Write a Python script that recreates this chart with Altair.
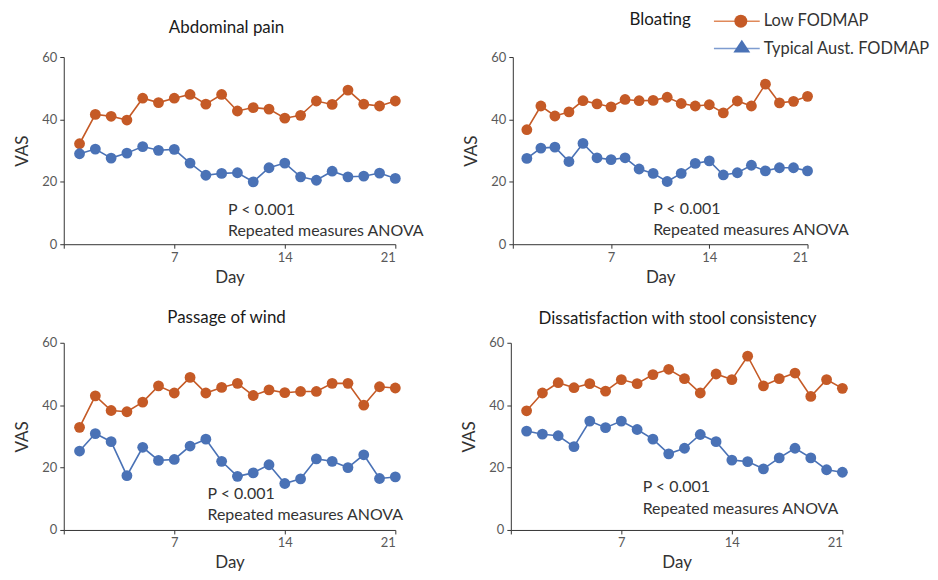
import altair as alt
import pandas as pd

# ---------------- data ----------------
days = list(range(1, 22))
series_names = ["Low FODMAP", "Typical Aust. FODMAP"]
panel_titles = ["Abdominal pain", "Bloating", "Passage of wind",
                "Dissatisfaction with stool consistency"]

abdominal_low = [32.2, 41.6, 41.0, 39.8, 46.8, 45.4, 46.8, 48.0, 44.9, 48.0, 42.7,
                 43.8, 43.3, 40.4, 41.3, 45.9, 44.8, 49.4, 44.9, 44.3, 45.9]
abdominal_typ = [29.0, 30.5, 27.6, 29.2, 31.3, 30.1, 30.4, 26.0, 22.1, 22.7, 22.9,
                 20.0, 24.5, 26.0, 21.6, 20.5, 23.4, 21.6, 21.8, 22.8, 21.1]
bloating_low = [36.7, 44.3, 41.1, 42.4, 46.0, 45.0, 44.0, 46.4, 46.0, 46.1, 47.1,
                45.1, 44.3, 44.7, 42.1, 45.9, 44.3, 51.3, 45.3, 45.8, 47.4]
bloating_typ = [27.5, 30.8, 31.1, 26.5, 32.3, 27.7, 27.1, 27.7, 24.1, 22.7, 20.1,
                22.7, 25.9, 26.7, 22.2, 22.9, 25.3, 23.5, 24.5, 24.5, 23.5]
wind_low = [32.9, 43.0, 38.3, 37.9, 41.0, 46.2, 43.9, 48.9, 43.9, 45.7, 47.0,
            43.1, 44.9, 44.0, 44.4, 44.4, 47.0, 47.0, 40.0, 45.9, 45.5]
wind_typ = [25.3, 30.9, 28.3, 17.4, 26.5, 22.3, 22.6, 26.9, 29.1, 22.0, 17.2,
            18.3, 20.9, 14.9, 16.4, 22.8, 22.0, 20.0, 24.1, 16.5, 17.0]
stool_low = [38.2, 43.9, 47.2, 45.6, 46.9, 44.5, 48.2, 46.9, 49.8, 51.5, 48.5,
             43.9, 50.0, 48.2, 55.7, 46.2, 48.5, 50.3, 42.8, 48.2, 45.4]
stool_typ = [31.7, 30.7, 30.2, 26.7, 34.9, 32.8, 34.9, 32.2, 29.1, 24.4, 26.2,
             30.6, 28.3, 22.4, 21.9, 19.6, 23.1, 26.2, 23.1, 19.3, 18.5]

x_ticks = [0, 7, 14, 21]
y_ticks = [0, 20, 40, 60]
annotation_lines = ["P < 0.001", "Repeated measures ANOVA"]

# ---------------- styles ----------------
FONT = "Lato"
ORANGE = "#C55A26"
BLUE = "#4A72B6"
ORANGE_LINE = "#E0895A"
BLUE_LINE = "#7E9CD0"

TRIANGLE = "M0,-0.75L1,0.75L-1,0.75Z"
legend_marker_colors = [ORANGE, BLUE]
legend_line_colors = [ORANGE_LINE, BLUE_LINE]
legend_shapes = ["circle", TRIANGLE]
legend_sizes = [169, 289]
# legend layout (pixels, relative to the right edge / top of the Bloating panel)
legend_line_x = (-94, -48)
legend_row_y = [-36, -8.5]
legend_marker_x = [-67, -66]
legend_marker_y = [-36, -11]
legend_label_x = -44


def legend_chart():
    out = []
    for i, name in enumerate(series_names):
        d = pd.DataFrame({"Series": [name]})
        out.append(alt.Chart(d).mark_rule(
            color=legend_line_colors[i], strokeWidth=1.6
        ).encode(x=alt.value(legend_line_x[0]), x2=alt.value(legend_line_x[1]),
                 y=alt.value(legend_row_y[i])))
        out.append(alt.Chart(d).mark_point(
            filled=True, opacity=1, shape=legend_shapes[i], size=legend_sizes[i],
            color=legend_marker_colors[i]
        ).encode(x=alt.value(legend_marker_x[i]), y=alt.value(legend_marker_y[i])))
        out.append(alt.Chart(d).mark_text(
            align="left", baseline="middle", font=FONT, fontSize=16.5, color="#333333"
        ).encode(x=alt.value(legend_label_x), y=alt.value(legend_row_y[i]),
                 text="Series:N"))
    return alt.layer(*out).properties(width=1, height=1)


def panel(title, low, typ, width, ann_pos, title_offset, title_dx):
    df = pd.DataFrame({
        "Day": days * 2,
        "VAS": low + typ,
        "Series": [series_names[0]] * len(low) + [series_names[1]] * len(typ),
    })
    x = alt.X("Day:Q", scale=alt.Scale(domain=[0, 21], nice=False, zero=False),
              axis=alt.Axis(values=x_ticks, title="Day",
                            labelExpr="datum.value == 0 ? '' : datum.label"))
    y = alt.Y("VAS:Q", scale=alt.Scale(domain=[0, 60], nice=False),
              axis=alt.Axis(values=y_ticks, title="VAS"))
    color = alt.Color("Series:N",
                      scale=alt.Scale(domain=series_names, range=[ORANGE, BLUE]),
                      legend=None)
    base = alt.Chart(df).encode(x=x, y=y, color=color)
    lines = base.mark_line(strokeWidth=1.6)
    pts = base.mark_point(filled=True, size=118, opacity=1)

    ax, ay1, ay2 = ann_pos
    ann_df = pd.DataFrame({"Day": [ax, ax], "VAS": [ay1, ay2],
                           "Text": annotation_lines})
    text = alt.Chart(ann_df).mark_text(
        align="left", baseline="middle", fontSize=16, font=FONT, color="#333333"
    ).encode(x="Day:Q", y="VAS:Q", text="Text:N")

    return alt.layer(lines, pts, text).properties(
        width=width, height=188,
        title=alt.TitleParams(title, offset=title_offset, anchor="middle", dx=title_dx),
    )


p1 = panel(panel_titles[0], abdominal_low, abdominal_typ, 333, (10.4, 10.8, 4.2), 14, -3)
p2 = panel(panel_titles[1], bloating_low, bloating_typ, 296, (10.0, 11.4, 4.5), 22, 0)
p3 = panel(panel_titles[2], wind_low, wind_typ, 333, (9.1, 11.6, 4.7), 10, -3)
p4 = panel(panel_titles[3], stool_low, stool_typ, 333, (8.35, 13.7, 6.8), 9, 1)

right_top = alt.hconcat(p2, legend_chart(), spacing=0, bounds="flush")
row1 = alt.hconcat(p1, right_top, spacing=118, bounds="flush")
row2 = alt.hconcat(p3, p4, spacing=116, bounds="flush")

chart = alt.vconcat(row1, row2, spacing=287, bounds="flush").properties(
    padding={"left": 5, "top": 2, "right": 0, "bottom": 5}
).configure_axis(
    grid=False,
    labelFont=FONT, labelFontSize=13, labelColor="#595959", labelPadding=3,
    titleFont=FONT, titleFontSize=17, titleFontWeight="normal", titleColor="#333333",
    domainColor="#333333", tickColor="#333333", tickSize=4,
).configure_axisX(titlePadding=5).configure_axisY(titlePadding=10).configure_view(
    stroke=None
).configure_title(
    font=FONT, fontSize=17, fontWeight="normal", color="#1a1a1a"
)

chart.save("out.html", embed_options={"renderer": "svg", "actions": False})
